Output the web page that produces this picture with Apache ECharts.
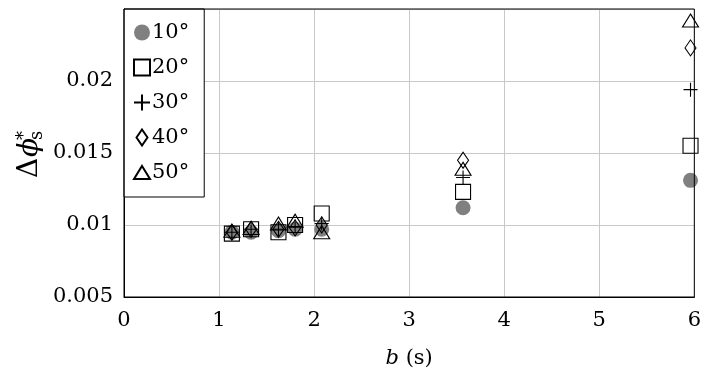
<!DOCTYPE html>
<html><head><meta charset="utf-8">
<script src="https://cdn.jsdelivr.net/npm/echarts@6/dist/echarts.min.js"></script>
<style>html,body{margin:0;padding:0;background:#fff}#c{width:704px;height:378px}</style>
</head><body><div id="c"></div>
<script>
// ---- data ----
const bValues = [1.135, 1.337, 1.625, 1.80, 2.08, 3.567, 5.96];
const seriesNames = ['10°', '20°', '30°', '40°', '50°'];
const phi10 = [0.0095, 0.0095, 0.0096, 0.0097, 0.0097, 0.0112, 0.0131];
const phi20 = [0.0094, 0.0097, 0.0095, 0.0100, 0.0108, 0.0123, 0.0155];
const phi30 = [0.0095, 0.0097, 0.0097, 0.0099, 0.0101, 0.0133, 0.0194];
const phi40 = [0.0095, 0.0097, 0.0097, 0.0098, 0.0100, 0.0145, 0.0223];
const phi50 = [0.0096, 0.0098, 0.0101, 0.0103, 0.0095, 0.0139, 0.0242];
const xTickLabels = ['0', '1', '2', '3', '4', '5', '6'];
const yTickLabels = ['0.005', '0.01', '0.015', '0.02'];

// ---- styles ----
const SERIF = '"DejaVu Serif"';
const FS = 21;
const seriesSymbols = ['circle', 'rect', 'path://M0,7H14M7,0V14', 'diamond', 'triangle'];
const legendIcons = [
  'circle',
  'path://M0,0H15V15H0Z',
  'path://M0,7H14M7,0V14',
  'path://M0,0M16,16M8,0L13.5,8L8,16L2.5,8Z',
  'path://M0,0M16,16M8,1.5L16,14.5L0,14.5Z'
];
const sizeList = [15, 15, 14, [11, 16], [16, 13]];
const seriesData = [phi10, phi20, phi30, phi40, phi50];

const series = seriesData.map((vals, i) => ({
  name: seriesNames[i],
  type: 'scatter',
  clip: false,
  symbol: seriesSymbols[i],
  symbolSize: sizeList[i],
  symbolKeepAspect: false,
  data: vals.map((v, j) => [bValues[j], v]),
  itemStyle: i === 0
    ? { color: '#808080', borderWidth: 0, opacity: 1 }
    : { color: 'rgba(0,0,0,0)', borderColor: '#000', borderWidth: 1.1, opacity: 1 },
  emphasis: { disabled: true },
  z: 2 + i
}));

const chart = echarts.init(document.getElementById('c'), null, { renderer: 'canvas' });
chart.setOption({
  animation: false,
  backgroundColor: '#fff',
  grid: { left: 124, right: 5, top: 9, bottom: 81, show: true, borderColor: '#000', borderWidth: 1, backgroundColor: 'transparent', z: 10 },
  legend: {
    orient: 'vertical',
    left: 124,
    top: 9,
    padding: [13, 15, 14, 9],
    itemGap: 14,
    itemWidth: 16,
    itemHeight: 16,
    symbolKeepAspect: true,
    backgroundColor: '#fff',
    borderColor: '#000',
    borderWidth: 1,
    borderRadius: 0,
    selectedMode: false,
    textStyle: { fontFamily: SERIF, fontSize: FS, color: '#000', lineHeight: 20, padding: [0, 0, 0, -3] },
    data: seriesNames.map((n, i) => ({ name: n, icon: legendIcons[i] }))
  },
  xAxis: {
    type: 'value', min: 0, max: 6, interval: 1,
    axisLine: { show: true, lineStyle: { color: '#000', width: 1 } },
    axisTick: { show: false },
    splitLine: { show: true, lineStyle: { color: '#c8c8c8', width: 1 } },
    axisLabel: { fontFamily: SERIF, fontSize: FS, color: '#000', margin: 13,
      formatter: v => xTickLabels[Math.round(v)] },
    name: '{i|b} (s)',
    nameLocation: 'middle',
    nameGap: 51,
    nameTextStyle: { fontFamily: SERIF, fontSize: FS, color: '#000',
      rich: { i: { fontFamily: SERIF, fontStyle: 'italic', fontSize: FS, color: '#000' } } }
  },
  yAxis: {
    type: 'value', min: 0.005, max: 0.025, interval: 0.005,
    axisLine: { show: true, lineStyle: { color: '#000', width: 1 } },
    axisTick: { show: false },
    splitLine: { show: true, lineStyle: { color: '#c8c8c8', width: 1 } },
    axisLabel: { fontFamily: SERIF, fontSize: FS, color: '#000', margin: 11,
      formatter: v => { const k = Math.round(v / 0.005) - 1; return yTickLabels[k] || ''; } }
  },
  graphic: [{
    type: 'group', x: 37, y: 178, rotation: Math.PI / 2, z: 100,
    children: [
      { type: 'text', x: 0, y: -7, style: { text: 'Δ', font: '28px "DejaVu Serif"', fill: '#000', verticalAlign: 'middle', align: 'left' } },
      { type: 'text', x: 21, y: -7, style: { text: 'ϕ', font: 'italic 28px "DejaVu Serif"', fill: '#000', verticalAlign: 'middle', align: 'left' } },
      { type: 'text', x: 38, y: -13, style: { text: '*', font: '18px "DejaVu Serif"', fill: '#000', verticalAlign: 'middle', align: 'left' } },
      { type: 'text', x: 38, y: 0, style: { text: 's', font: '18px "DejaVu Serif"', fill: '#000', verticalAlign: 'middle', align: 'left' } }
    ]
  }],
  series: series
});
</script>
</body></html>
